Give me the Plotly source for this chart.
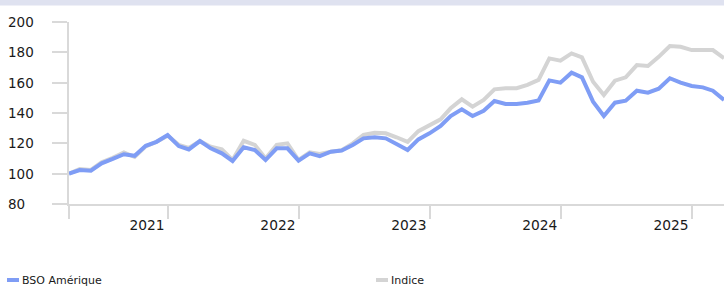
import pandas as pd
import plotly.graph_objects as go

# Monthly (month-end) dates, March 2020 .. March 2025
dates = pd.date_range("2020-03-31", periods=61, freq="ME")

bso_amerique = [
    100.0, 102.4, 102.0, 106.8, 109.7, 112.8, 111.8, 118.4, 121.0, 125.5,
    118.2, 116.0, 121.5, 116.7, 113.4, 108.4, 117.4, 115.6, 109.0, 116.7,
    116.7, 108.6, 113.4, 111.6, 114.5, 115.2, 118.9, 123.3, 124.0, 123.3,
    119.6, 115.6, 122.6, 126.6, 131.4, 138.0, 142.4, 138.0, 141.5, 147.9,
    145.9, 145.9, 146.8, 148.3, 161.5, 160.0, 166.6, 163.5, 147.5, 138.0,
    146.8, 148.1, 154.7, 153.4, 156.0, 162.9, 160.0, 157.8, 156.9, 154.7,
    148.6,
]
indice = [
    100.0, 103.0, 102.5, 107.5, 110.5, 114.0, 111.0, 118.0, 121.0, 125.0,
    119.0, 117.0, 121.5, 117.8, 116.0, 109.0, 121.7, 119.0, 110.0, 119.0,
    120.0, 109.0, 114.0, 113.0, 114.5, 115.5, 120.0, 125.5, 127.0, 126.6,
    124.0, 121.0, 128.0, 132.0, 135.8, 143.1, 149.0, 144.2, 148.6, 155.6,
    156.3, 156.3, 158.5, 161.8, 176.0, 174.5, 179.3, 176.7, 160.6, 151.9,
    161.3, 163.5, 171.6, 171.0, 177.0, 184.2, 183.7, 181.5, 181.5, 181.5,
    176.1,
]

year_ticks = ["2021-01-01", "2022-01-01", "2023-01-01", "2024-01-01", "2025-01-01"]
year_labels = ["2021", "2022", "2023", "2024", "2025"]
y_ticks = [80, 100, 120, 140, 160, 180, 200]

series_names = ["BSO Amérique", "Indice"]
BLUE = "#7f9df5"
GREY = "#d4d4d4"
AXIS = "#d9d9d9"
FONT = "DejaVu Sans"

W, H = 724, 286
ML, MR, MT, MB = 69, 0, 22, 82
PW = W - ML - MR
PH = H - MT - MB

fig = go.Figure()
fig.add_trace(go.Scatter(x=dates, y=indice, mode="lines", name=series_names[1],
                         line=dict(color=GREY, width=4), showlegend=False))
fig.add_trace(go.Scatter(x=dates, y=bso_amerique, mode="lines", name=series_names[0],
                         line=dict(color=BLUE, width=4), showlegend=False))

annotations = []
for v in y_ticks:
    annotations.append(dict(x=0, xref="paper", xshift=-(ML - 6), xanchor="left",
                            y=v, yref="y", yanchor="middle", text=str(v), showarrow=False,
                            font=dict(family=FONT, size=13.5, color="#1a1a1a")))

# manual legend
shapes = [
    dict(type="rect", xref="paper", yref="paper",
         x0=-ML / PW, x1=1.0, y0=1 + (MT - 5.5) / PH, y1=1 + MT / PH,
         fillcolor="#dfe2f0", line=dict(width=0), layer="below"),
]
legend_items = [(7, BLUE, series_names[0]), (376, GREY, series_names[1])]
for px, col, name in legend_items:
    x0 = (px - ML) / PW
    x1 = (px + 12 - ML) / PW
    yy = -(280 - (MT + PH)) / PH
    shapes.append(dict(type="line", xref="paper", yref="paper", x0=x0, x1=x1, y0=yy, y1=yy,
                       line=dict(color=col, width=4)))
    annotations.append(dict(x=(px + 13 - ML) / PW, xref="paper", xanchor="left",
                            y=yy, yref="paper", yanchor="middle", text=name, showarrow=False,
                            font=dict(family=FONT, size=11, color="#1a1a1a")))

fig.update_layout(
    width=W, height=H,
    margin=dict(l=ML, r=MR, t=MT, b=MB),
    paper_bgcolor="white", plot_bgcolor="white",
    showlegend=False,
    shapes=shapes,
    annotations=annotations,
    xaxis=dict(
        range=[dates[0], dates[-1]],
        tickvals=[dates[0]] + year_ticks,
        ticktext=[""] + year_labels,
        ticks="outside", ticklen=13, tickwidth=2, tickcolor=AXIS,
        showline=True, linecolor=AXIS, linewidth=2,
        showgrid=False, zeroline=False,
        ticklabelshift=-21,
        ticklabelstandoff=-6,
        tickfont=dict(family=FONT, size=13.8, color="#1a1a1a"),
    ),
    yaxis=dict(
        range=[80, 200],
        tickvals=y_ticks,
        showticklabels=False,
        ticks="outside", ticklen=15, tickwidth=2, tickcolor=AXIS,
        showline=True, linecolor=AXIS, linewidth=2,
        showgrid=False, zeroline=False,
    ),
)

fig.write_html("out.html", config={"displayModeBar": False},
               post_script="document.body.style.margin='0';document.body.style.padding='0';")
